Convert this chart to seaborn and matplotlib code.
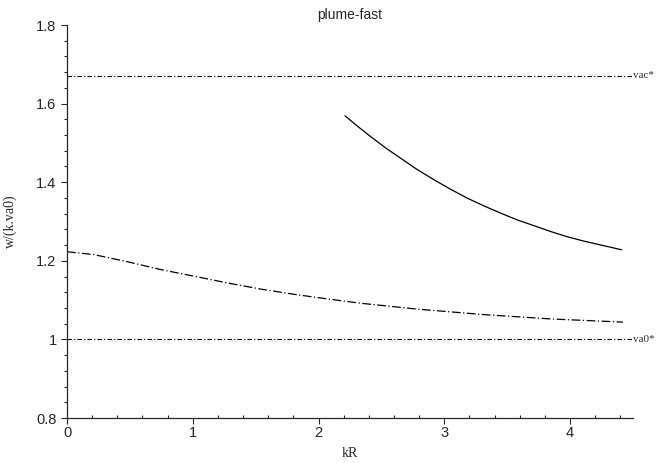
import numpy as np
import pandas as pd
import matplotlib
matplotlib.use("Agg")
import matplotlib.pyplot as plt
import seaborn as sns
from matplotlib.ticker import MultipleLocator

# Data
upper_kR = [2.21, 2.30, 2.414, 2.53, 2.653, 2.78, 2.919, 3.05, 3.185, 3.32, 3.45, 3.58, 3.716, 3.85, 3.98, 4.11, 4.247, 4.41]
upper_w = [1.569, 1.545, 1.516, 1.488, 1.461, 1.433, 1.406, 1.382, 1.359, 1.339, 1.321, 1.304, 1.289, 1.274, 1.261, 1.250, 1.240, 1.228]

lower_kR = [0.0, 0.21, 0.476, 0.741, 1.007, 1.27, 1.54, 1.80, 2.07, 2.335, 2.786, 3.317, 3.85, 4.42]
lower_w = [1.223, 1.216, 1.198, 1.178, 1.161, 1.144, 1.128, 1.115, 1.103, 1.092, 1.077, 1.063, 1.052, 1.044]

ref_names = ["vac*", "va0*"]
ref_values = [1.671, 1.0]
ref_kR = [0.0, 4.5]

sns.set_style("ticks")
plt.rcParams['font.family'] = ['Liberation Sans', 'DejaVu Sans']

fig = plt.figure(figsize=(6.64, 4.63), dpi=100)
ax = fig.add_axes([67/664, 45/463, (633-67)/664, (418-25)/463])

df_up = pd.DataFrame({"kR": upper_kR, "w": upper_w})
df_lo = pd.DataFrame({"kR": lower_kR, "w": lower_w})

sns.lineplot(data=df_up, x="kR", y="w", ax=ax, color="black", linewidth=0.9, sort=False)
sns.lineplot(data=df_lo, x="kR", y="w", ax=ax, color="black", linewidth=0.9, sort=False,
             linestyle=(0, (7, 2, 1, 2)))

for name, val in zip(ref_names, ref_values):
    df_r = pd.DataFrame({"kR": ref_kR, "w": [val, val]})
    sns.lineplot(data=df_r, x="kR", y="w", ax=ax, color="black", linewidth=0.8,
                 linestyle=(0, (4, 2, 1, 2)))
    ax.text(ref_kR[1], val, name, fontsize=8, family="Liberation Serif",
            va="center", ha="left", color="#333333")

ax.set_xlim(0, 4.5)
ax.set_ylim(0.8, 1.8)
ax.xaxis.set_minor_locator(MultipleLocator(0.2))
ax.yaxis.set_minor_locator(MultipleLocator(0.04))
ax.set_yticks([0.8, 1.0, 1.2, 1.4, 1.6, 1.8])
ax.set_yticklabels(["0.8", "1", "1.2", "1.4", "1.6", "1.8"])
ax.set_xticks([0, 1, 2, 3, 4])
ax.set_xticklabels(["0", "1", "2", "3", "4"])

ax.tick_params(axis="both", which="major", labelsize=10.5, length=4, width=0.8, direction="out")
ax.tick_params(axis="both", which="minor", length=2.5, width=0.8, direction="out")
ax.tick_params(axis="x", which="minor", direction="in")
ax.tick_params(axis="x", which="major", pad=2)

for s in ["top", "right"]:
    ax.spines[s].set_visible(False)
for s in ["left", "bottom"]:
    ax.spines[s].set_linewidth(0.9)

ax.set_xlabel("kR", family="Liberation Serif", fontsize=10, labelpad=5)
ax.set_ylabel("w/(k.va0)", family="Liberation Serif", fontsize=10)
ax.yaxis.set_label_coords(-0.088, 0.5)
ax.set_title("plume-fast", fontsize=10, pad=4)

fig.savefig("out.png", dpi=100)
